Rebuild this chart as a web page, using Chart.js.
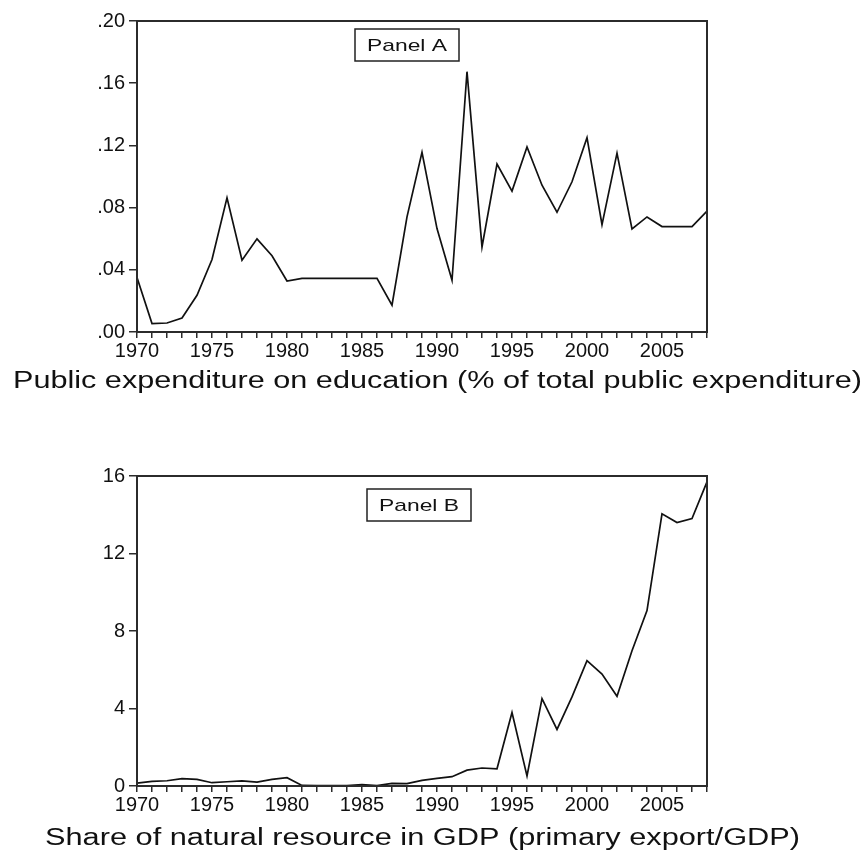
<!DOCTYPE html>
<html>
<head>
<meta charset="utf-8">
<script src="https://cdn.jsdelivr.net/npm/chart.js@4.4.1/dist/chart.umd.min.js"></script>
<style>
  html, body { margin: 0; padding: 0; background: #ffffff; }
  #wrap { position: relative; width: 867px; height: 851px; overflow: hidden; }
  #c1 { position: absolute; left: 0; top: 0; }
  #c2 { position: absolute; left: 0; top: 410px; }
</style>
</head>
<body>
<div id="wrap">
  <canvas id="c1" width="867" height="410"></canvas>
  <canvas id="c2" width="867" height="441"></canvas>
</div>
<script>
// ---- data ----
const years = [1970,1971,1972,1973,1974,1975,1976,1977,1978,1979,
               1980,1981,1982,1983,1984,1985,1986,1987,1988,1989,
               1990,1991,1992,1993,1994,1995,1996,1997,1998,1999,
               2000,2001,2002,2003,2004,2005,2006,2007,2008];

// Panel A: public expenditure on education (share of total public expenditure)
const eduExpenditure = [0.035,0.0054,0.0058,0.009,0.0236,0.0466,0.0863,0.0461,0.0599,0.049,
                        0.0328,0.0345,0.0345,0.0345,0.0345,0.0345,0.0345,0.0172,0.074,0.1155,
                        0.0665,0.0333,0.1674,0.0547,0.108,0.0906,0.119,0.0944,0.077,0.0966,
                        0.125,0.069,0.115,0.0663,0.074,0.0678,0.0678,0.0678,0.0777];

// Panel B: share of natural resource in GDP (primary export / GDP)
const resourceShare = [0.15,0.24,0.27,0.38,0.34,0.17,0.22,0.26,0.20,0.34,
                       0.43,0.03,0.02,0.02,0.02,0.07,0.02,0.14,0.12,0.29,
                       0.39,0.48,0.82,0.93,0.89,3.79,0.52,4.51,2.92,4.60,
                       6.47,5.78,4.63,6.98,9.05,14.05,13.60,13.80,15.70];

const labeledYears = [1970,1975,1980,1985,1990,1995,2000,2005];
const ticksA = [0, 0.04, 0.08, 0.12, 0.16, 0.20];
const ticksB = [0, 4, 8, 12, 16];
const titleA = 'Public expenditure on education (% of total public expenditure)';
const titleB = 'Share of natural resource in GDP (primary export/GDP)';
const panelA = 'Panel A';
const panelB = 'Panel B';

// ---- drawing ----
const FONT = '"Liberation Sans", Arial, sans-serif';

// draw text horizontally stretched so that it spans targetWidth starting at x
function stretchedText(ctx, text, x, y, targetWidth) {
  const natural = ctx.measureText(text).width;
  const sx = targetWidth / natural;
  ctx.save();
  ctx.translate(x, y);
  ctx.scale(sx, 1);
  ctx.textAlign = 'left';
  ctx.fillText(text, 0, 0);
  ctx.restore();
}

const framePlugin = {
  id: 'frame',
  afterDraw(chart, args, opts) {
    const { ctx, chartArea: a } = chart;
    ctx.save();
    ctx.strokeStyle = '#2b2b2b';
    ctx.lineWidth = 2;
    ctx.strokeRect(a.left, a.top, a.right - a.left, a.bottom - a.top);
    // panel label box
    const bx = a.left + opts.dx, by = a.top + opts.dy;
    ctx.fillStyle = '#ffffff';
    ctx.fillRect(bx, by, opts.w, opts.h);
    ctx.lineWidth = 1.5;
    ctx.strokeStyle = '#222';
    ctx.strokeRect(bx, by, opts.w, opts.h);
    ctx.fillStyle = '#111';
    ctx.textBaseline = 'alphabetic';
    ctx.font = '17px ' + FONT;
    stretchedText(ctx, opts.text, bx + 12, by + opts.h / 2 + 6, opts.w - 24);
    // axis title under the chart
    ctx.font = '23px ' + FONT;
    stretchedText(ctx, opts.title, opts.tx, opts.ty, opts.tw);
    ctx.restore();
  }
};

function makeChart(canvasId, values, yMin, yMax, yTicks, fmt, layout, box) {
  return new Chart(document.getElementById(canvasId), {
    type: 'line',
    data: {
      labels: years,
      datasets: [{
        data: values,
        borderColor: '#111111',
        borderWidth: 1.7,
        pointRadius: 0,
        tension: 0,
        fill: false
      }]
    },
    options: {
      responsive: false,
      animation: false,
      devicePixelRatio: 1,
      layout: { padding: { left: 0, right: layout.right, top: layout.top, bottom: 0 } },
      plugins: {
        legend: { display: false },
        tooltip: { enabled: false },
        frame: box
      },
      scales: {
        x: {
          type: 'category',
          offset: false,
          afterFit(scale) { scale.height = layout.xHeight; },
          border: { display: true, color: '#2b2b2b', width: 2 },
          grid: { display: true, drawOnChartArea: false, drawTicks: true, tickLength: 6, color: '#2b2b2b', lineWidth: 1.5 },
          ticks: {
            autoSkip: false,
            maxRotation: 0,
            minRotation: 0,
            padding: 1,
            color: '#111',
            font: { family: FONT, size: 20 },
            callback(val, idx) {
              const y = years[idx];
              return labeledYears.includes(y) ? String(y) : '';
            }
          },
          title: { display: false }
        },
        y: {
          type: 'linear',
          min: yMin,
          max: yMax,
          afterFit(scale) { scale.width = layout.yWidth; },
          afterBuildTicks(scale) { scale.ticks = yTicks.map(v => ({ value: v })); },
          border: { display: true, color: '#2b2b2b', width: 2 },
          grid: { display: true, drawOnChartArea: false, drawTicks: true, tickLength: 8, color: '#2b2b2b', lineWidth: 1.5 },
          ticks: {
            padding: 4,
            color: '#111',
            font: { family: FONT, size: 20 },
            callback: fmt
          }
        }
      }
    },
    plugins: [framePlugin]
  });
}

makeChart('c1', eduExpenditure, 0, 0.20, ticksA,
  v => v.toFixed(2).replace(/^0/, ''),
  { right: 160, top: 21, xHeight: 78, yWidth: 137 },
  { dx: 218, dy: 8, w: 104, h: 32, text: panelA, title: titleA, tx: 13, ty: 388, tw: 849 });

makeChart('c2', resourceShare, 0, 16, ticksB,
  v => String(Math.round(v)),
  { right: 160, top: 66, xHeight: 65, yWidth: 137 },
  { dx: 230, dy: 13, w: 104, h: 32, text: panelB, title: titleB, tx: 45, ty: 435, tw: 755 });
</script>
</body>
</html>
